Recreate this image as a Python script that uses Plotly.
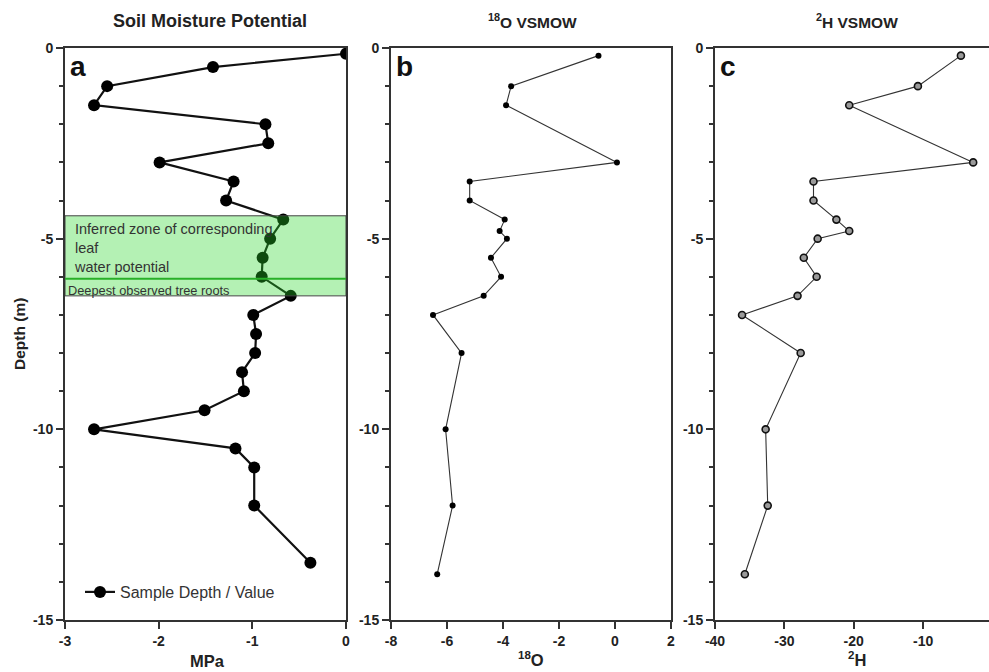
import plotly.graph_objects as go

# Panel a: soil moisture potential
depth_a = [-0.15, -0.5, -1.0, -1.5, -2.0, -2.5, -3.0, -3.5, -4.0, -4.5, -5.0, -5.5, -6.0, -6.5,
           -7.0, -7.5, -8.0, -8.5, -9.0, -9.5, -10.0, -10.5, -11.0, -12.0, -13.5]
mpa = [0.0, -1.42, -2.55, -2.69, -0.86, -0.83, -1.99, -1.20, -1.28, -0.67, -0.81, -0.89, -0.90, -0.59,
       -0.99, -0.96, -0.97, -1.11, -1.09, -1.51, -2.69, -1.18, -0.98, -0.98, -0.38]

# Panel b: 18O
depth_b = [-0.2, -1.0, -1.5, -3.0, -3.5, -4.0, -4.5, -4.8, -5.0, -5.5, -6.0, -6.5, -7.0, -8.0, -10.0, -12.0, -13.8]
o18 = [-0.59, -3.71, -3.89, 0.07, -5.19, -5.19, -3.94, -4.12, -3.86, -4.43, -4.07, -4.69, -6.5, -5.48, -6.05, -5.80, -6.35]

# Panel c: 2H
depth_c = [-0.2, -1.0, -1.5, -3.0, -3.5, -4.0, -4.5, -4.8, -5.0, -5.5, -6.0, -6.5, -7.0, -8.0, -10.0, -12.0, -13.8]
h2 = [-4.55, -10.75, -20.65, -2.78, -25.8, -25.8, -22.5, -20.65, -25.2, -27.2, -25.35, -28.1, -36.1, -27.65, -32.7, -32.4, -35.7]

# Tick labels
depth_ticks = [0, -5, -10, -15]
mpa_ticks = [-3, -2, -1, 0]
o18_ticks = [-8, -6, -4, -2, 0, 2]
h2_ticks = [-40, -30, -20, -10, 0]

zone_top, zone_bottom, roots_depth = -4.4, -6.5, -6.05

W, H = 989, 672
FONT = "Liberation Sans"
AX = "#333333"

fig = go.Figure()
fig.add_trace(go.Scatter(x=mpa, y=depth_a, mode="lines+markers", name="Sample Depth / Value",
                         line=dict(color="#111111", width=2.2),
                         marker=dict(color="#000000", size=12), xaxis="x", yaxis="y"))
fig.add_trace(go.Scatter(x=o18, y=depth_b, mode="lines+markers", showlegend=False,
                         line=dict(color="#333333", width=1.1),
                         marker=dict(color="#000000", size=6), xaxis="x2", yaxis="y2"))
fig.add_trace(go.Scatter(x=h2, y=depth_c, mode="lines+markers", showlegend=False,
                         line=dict(color="#333333", width=1.1),
                         marker=dict(color="#9a9a9a", size=7, line=dict(color="#111111", width=1.6)),
                         xaxis="x3", yaxis="y3"))

def px(x):
    return x / W

def py(y):
    return 1 - y / H

def lab(v):
    return f"<b>{v}</b>"  # plain hyphen minus, bold, as in the reference

ydom = [py(620), py(48)]
tickfont = dict(family=FONT, size=14, color="#222")

def xax(dom, rng, ticks, anchor, mirror=True):
    return dict(domain=dom, range=rng, tickvals=ticks, ticktext=[lab(v) for v in ticks], anchor=anchor,
                showgrid=False, zeroline=False, automargin=False,
                showline=True, linecolor=AX, linewidth=2, mirror=mirror, ticks="outside", ticklen=7,
                tickwidth=2, tickcolor=AX, tickfont=tickfont, fixedrange=True)

def yax(anchor, mirror=True):
    return dict(domain=ydom, range=[-15, 0], tickvals=depth_ticks, ticktext=[lab(v) for v in depth_ticks],
                anchor=anchor, showgrid=False, zeroline=False, automargin=False,
                showline=True, linecolor=AX, linewidth=2, mirror=mirror, ticks="outside", ticklen=7,
                tickwidth=2, tickcolor=AX, tickfont=tickfont,
                minor=dict(dtick=1, tick0=0, ticks="outside", ticklen=4, tickwidth=1.5, tickcolor=AX))

fig.update_layout(
    width=W, height=H, margin=dict(l=0, r=0, t=0, b=0, autoexpand=False),
    paper_bgcolor="white", plot_bgcolor="white",
    xaxis=xax([px(65), px(346)], [-3, 0], mpa_ticks, "y"),
    yaxis=yax("x"),
    xaxis2=xax([px(391), px(671)], [-8, 2], o18_ticks, "y2"),
    yaxis2=yax("x2"),
    xaxis3=xax([px(715), 1.0], [-40, -0.5], h2_ticks, "y3"),
    yaxis3=yax("x3", mirror=False),
    showlegend=True,
    legend=dict(x=px(80), y=py(592), xanchor="left", yanchor="middle", bgcolor="rgba(0,0,0,0)",
                font=dict(family=FONT, size=16, color="#333")),
)

# Inferred zone and roots line (panel a)
fig.add_shape(type="rect", xref="x", yref="y", x0=-3, x1=0, y0=zone_bottom, y1=zone_top,
              fillcolor="rgba(40,215,40,0.35)", line=dict(color="#444", width=1), layer="above")
fig.add_shape(type="line", xref="x", yref="y", x0=-3, x1=0, y0=roots_depth, y1=roots_depth,
              line=dict(color="rgb(40,175,40)", width=2), layer="above")

ann = []
def A(text, x, y, size, bold=False, xanchor="center", yanchor="middle", angle=0, color="#222", align="center"):
    ann.append(dict(text=(f"<b>{text}</b>" if bold else text), x=px(x), y=py(y), xref="paper", yref="paper",
                    showarrow=False, xanchor=xanchor, yanchor=yanchor, textangle=angle, align=align,
                    font=dict(family=FONT, size=size, color=color)))

A("Soil Moisture Potential", 210, 21, 18, bold=True)
A("<sup>18</sup>O VSMOW", 532, 21, 15.5, bold=True)
A("<sup>2</sup>H VSMOW", 857, 21, 15.5, bold=True)
A("MPa", 207, 661, 16.5, bold=True)
A("<sup>18</sup>O", 531, 659, 16.5, bold=True)
A("<sup>2</sup>H", 857, 659, 16.5, bold=True)
A("Depth (m)", 19, 334, 15.5, bold=True, angle=-90)
A("a", 68, 67, 28, bold=True, xanchor="left", color="#111")
A("b", 394, 67, 28, bold=True, xanchor="left", color="#111")
A("c", 718, 67, 28, bold=True, xanchor="left", color="#111")
A("Inferred zone of corresponding<br>leaf<br>water potential", 72, 248, 14.5, xanchor="left",
  color="#333", align="left")
A("Deepest observed tree roots", 66, 290, 12.8, xanchor="left", color="#333")
fig.update_layout(annotations=ann)

fig.write_html("out.html")
